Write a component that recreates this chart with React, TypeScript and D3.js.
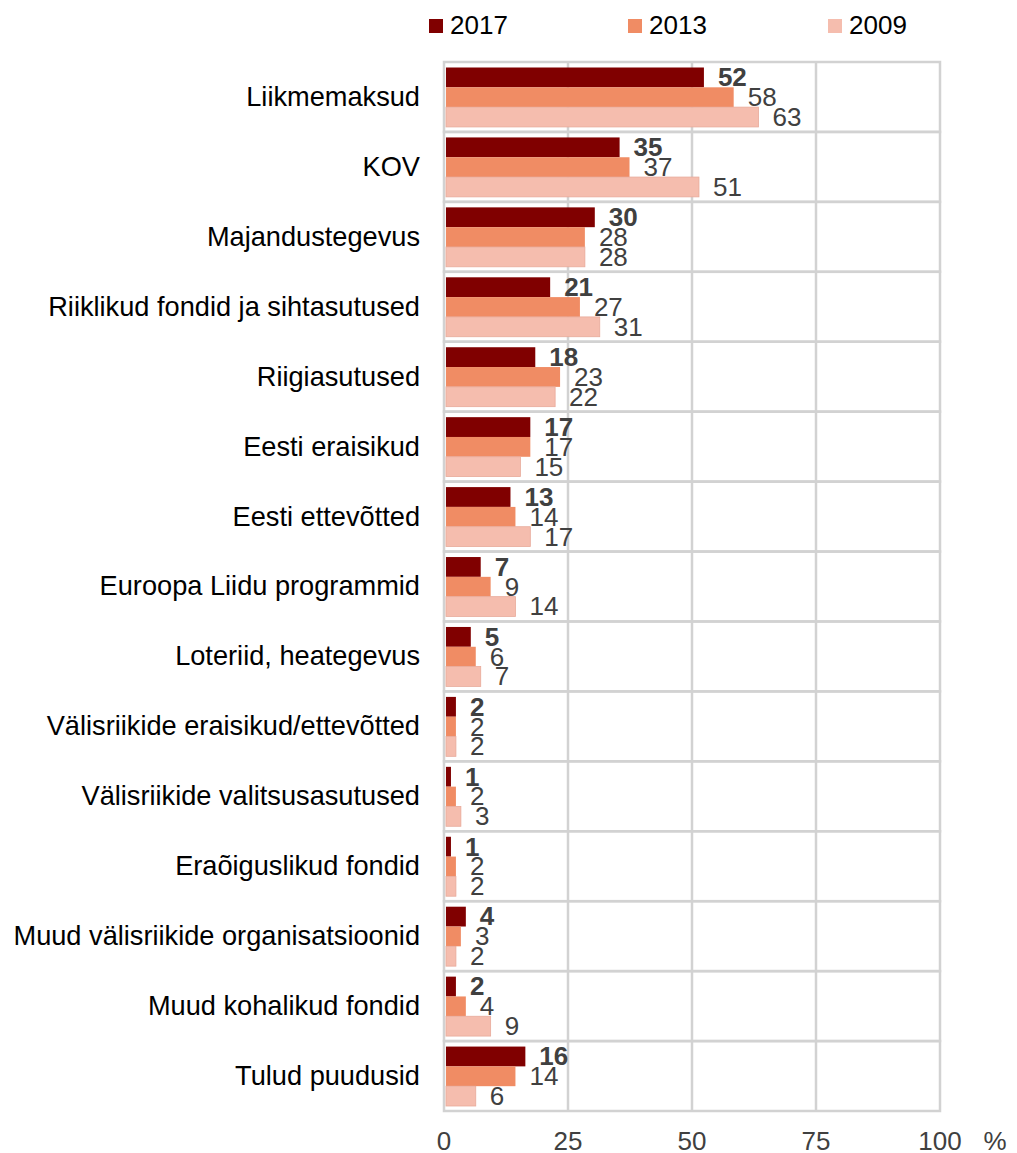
import React from 'react';
import * as d3 from 'd3';

const categories = [
  'Liikmemaksud',
  'KOV',
  'Majandustegevus',
  'Riiklikud fondid ja sihtasutused',
  'Riigiasutused',
  'Eesti eraisikud',
  'Eesti ettevõtted',
  'Euroopa Liidu programmid',
  'Loteriid, heategevus',
  'Välisriikide eraisikud/ettevõtted',
  'Välisriikide valitsusasutused',
  'Eraõiguslikud fondid',
  'Muud välisriikide organisatsioonid',
  'Muud kohalikud fondid',
  'Tulud puudusid',
];

const years = ['2017', '2013', '2009'];
const values2017 = [52, 35, 30, 21, 18, 17, 13, 7, 5, 2, 1, 1, 4, 2, 16];
const values2013 = [58, 37, 28, 27, 23, 17, 14, 9, 6, 2, 2, 2, 3, 4, 14];
const values2009 = [63, 51, 28, 31, 22, 15, 17, 14, 7, 2, 3, 2, 2, 9, 6];
const xTicks = [0, 25, 50, 75, 100];

const colors = ['#800000', '#f08c64', '#f5bdae'];
const font = '"Liberation Sans", Arial, sans-serif';

export default function App() {
  const width = 1017;
  const height = 1153;
  const margin = { top: 62, right: 77, bottom: 42, left: 444 };
  const innerW = width - margin.left - margin.right;
  const innerH = height - margin.top - margin.bottom;

  const series = [values2017, values2013, values2009];

  const x = d3.scaleLinear().domain([0, 100]).range([0, innerW]);
  const y = d3.scaleBand().domain(categories).range([0, innerH]);
  const inner = d3.scaleBand().domain(years).range([5.5, y.bandwidth() - 5]);

  const legendX = [429, 628, 828];
  const gridColor = '#d2d2d2';

  return (
    <svg
      width={width}
      height={height}
      style={{ position: 'absolute', left: 0, top: 0, display: 'block', fontFamily: font }}
    >
      {/* legend */}
      {years.map((yr, i) => (
        <g key={yr} transform={`translate(${legendX[i]},0)`}>
          <rect x={0} y={19} width={14} height={14} fill={colors[i]} />
          <text x={21} y={34} fontSize={26} fill="#000">{yr}</text>
        </g>
      ))}

      <g transform={`translate(${margin.left},${margin.top})`}>
        {/* grid */}
        {categories.map((c) => (
          <rect key={c} x={0} y={y(c)} width={innerW} height={y.bandwidth()} fill="none" stroke={gridColor} strokeWidth={2.5} />
        ))}
        {xTicks.slice(1, -1).map((t) => (
          <line key={t} x1={x(t)} x2={x(t)} y1={0} y2={innerH} stroke={gridColor} strokeWidth={2.5} />
        ))}

        {/* bars */}
        {categories.map((c, ci) => (
          <g key={c} transform={`translate(0,${y(c)})`}>
            {years.map((yr, si) => {
              const v = series[si][ci];
              const by = inner(yr)!;
              return (
                <g key={yr}>
                  <rect x={2} y={by} width={x(v)} height={inner.bandwidth()} fill={colors[si]} stroke={si === 2 ? '#e8aa9a' : 'none'} strokeWidth={0.8} />
                  <text
                    x={x(v) + 16}
                    y={by + inner.bandwidth() - 1}
                    fontSize={26}
                    fontWeight={si === 0 ? 'bold' : 'normal'}
                    fill="#404040"
                  >
                    {v}
                  </text>
                </g>
              );
            })}
            <text
              x={-24}
              y={y.bandwidth() / 2 + 9}
              textAnchor="end"
              fontSize={27.2}
              fill="#000"
            >
              {c}
            </text>
          </g>
        ))}

        {/* x axis labels */}
        {xTicks.map((t) => (
          <text key={t} x={x(t)} y={innerH + 39} textAnchor="middle" fontSize={26} fill="#404040">
            {t}
          </text>
        ))}
        <text x={innerW + 55} y={innerH + 39} textAnchor="middle" fontSize={26} fill="#404040">%</text>
      </g>
    </svg>
  );
}
